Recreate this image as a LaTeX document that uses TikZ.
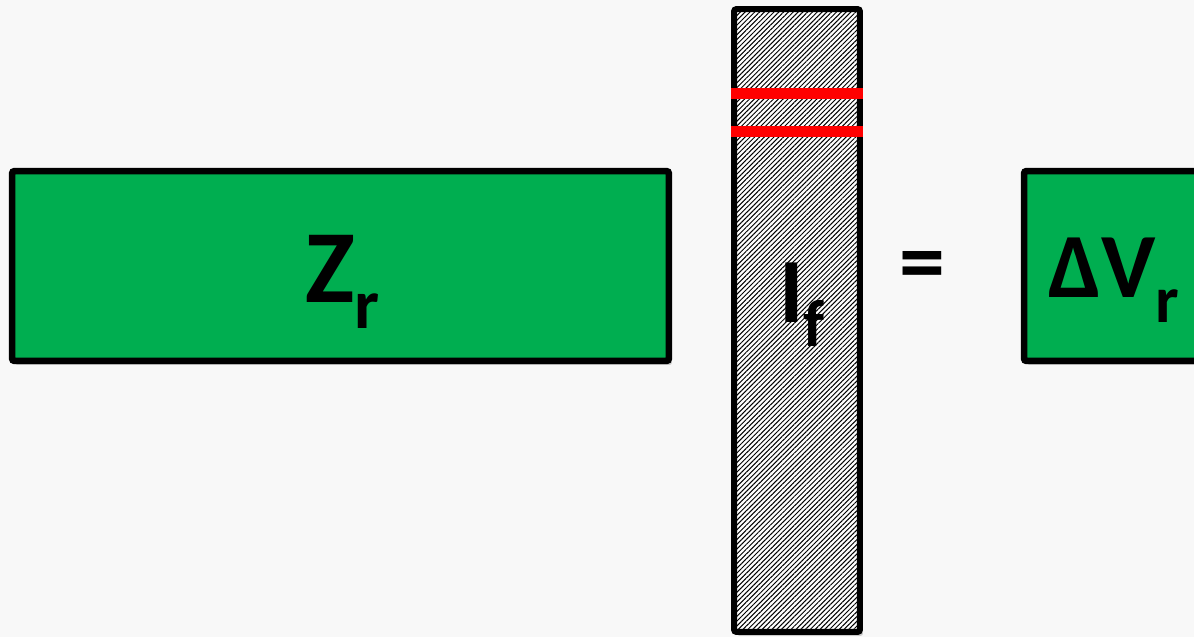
\documentclass[tikz,border=0pt]{standalone}
\usepackage{fontspec}
\setmainfont{Carlito}
\usetikzlibrary{patterns.meta,shadows}
\definecolor{mxInk}{HTML}{000000}
\definecolor{mxGreen}{HTML}{00AE50}
\definecolor{mxRed}{HTML}{FF0000}
\definecolor{mxPaper}{HTML}{F8F8F8}
\tikzset{
  mx canvas/.style={fill=mxPaper},
  mx shade/.style={drop shadow={shadow xshift=.06cm, shadow yshift=-.08cm, opacity=.18, fill=black}},
  mx block/.style={
    draw=mxInk, fill=mxGreen, line width=.13cm, rounded corners=.5mm,
    inner sep=0pt, mx shade
  },
  mx column/.style={
    draw=mxInk, line width=.12cm, rounded corners=.5mm, inner sep=0pt,
    fill=white, mx shade,
    postaction={pattern={Lines[angle=45,distance=.068cm,line width=.02cm]}, pattern color=mxInk}
  },
  mx marker/.style={draw=mxRed, line width=.22cm},
  mx label/.style={font=\bfseries, text=mxInk, inner sep=0pt, anchor=base west}
}
% symbol with lowered subscript: size, sub size, drop
\newcommand{\mxsym}[5]{{\fontsize{#1}{#1}\selectfont #4}%
  \raisebox{-#3}{\fontsize{#2}{#2}\selectfont #5}}

\begin{document}
\begin{tikzpicture}[x=.02cm,y=-.02cm]
  \clip (0,0) rectangle (1194,637);
  \path[mx canvas] (0,0) rectangle (1194,637);

  % impedance block and right-hand side
  \node[mx block, minimum width=13.14cm, minimum height=3.8cm] (zr) at (340.5,266) {};
  \node[mx block, minimum width=3.64cm, minimum height=3.8cm] (dv) at (1115,266) {};

  % current column
  \node[mx column, minimum width=2.52cm, minimum height=12.46cm] (col) at (797,320.5) {};
  \coordinate (ra) at (731,93.5);
  \coordinate (rb) at (731,131.5);
  \coordinate (sa) at (863,93.5);
  \coordinate (sb) at (863,131.5);
  \draw[mx marker] (ra) -- (sa);
  \draw[mx marker] (rb) -- (sb);

  % labels
  \node[mx label] (zlab) at (305,302) {\mxsym{59pt}{40pt}{14.8pt}{Z}{r}};
  \node[mx label] (ilab) at (779,322) {\mxsym{52.3pt}{37.8pt}{14.2pt}{I}{f}};
  \node[mx label] (dlab) at (1048,297) {\mxsym{52.3pt}{37.8pt}{14.6pt}{ΔV}{r}};
  \node[font=\bfseries\fontsize{52.3pt}{52.3pt}\selectfont, inner sep=0pt] (eq) at (922,272) {=};
\end{tikzpicture}
\end{document}
